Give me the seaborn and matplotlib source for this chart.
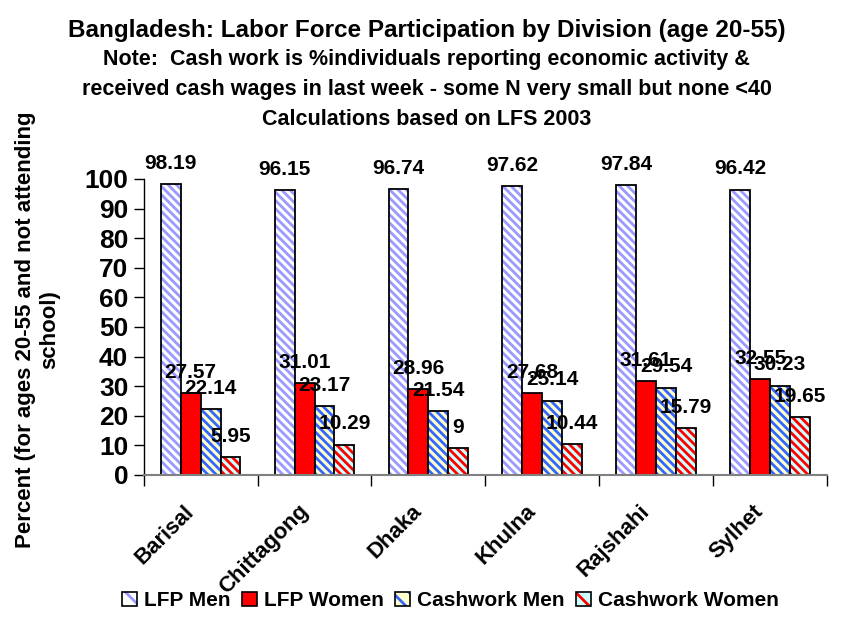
import pandas as pd
import matplotlib.pyplot as plt
import matplotlib.colors as mcolors
from matplotlib.patches import Patch
from matplotlib.transforms import ScaledTranslation
import seaborn as sns

divisions = ["Barisal", "Chittagong", "Dhaka", "Khulna", "Rajshahi", "Sylhet"]
lfp_men = [98.19, 96.15, 96.74, 97.62, 97.84, 96.42]
lfp_women = [27.57, 31.01, 28.96, 27.68, 31.61, 32.55]
cash_men = [22.14, 23.17, 21.54, 25.14, 29.54, 30.23]
cash_women = [5.95, 10.29, 9, 10.44, 15.79, 19.65]
series = ["LFP Men", "LFP Women", "Cashwork Men", "Cashwork Women"]

# face colour, hatch colour, hatch pattern per series
styles = {
    "LFP Men": ("white", "#9999FF", "\\\\\\\\"),
    "LFP Women": ("#FF0000", "#FF0000", ""),
    "Cashwork Men": ("#FFFFCC", "#3366FF", "\\\\\\\\"),
    "Cashwork Women": ("#CCFFFF", "#FF0000", "\\\\\\\\"),
}

df = pd.DataFrame({"Division": divisions, "LFP Men": lfp_men, "LFP Women": lfp_women,
                   "Cashwork Men": cash_men, "Cashwork Women": cash_women})
long = df.melt(id_vars="Division", var_name="Series", value_name="Percent")

sns.set_theme(style="white")
plt.rcParams["font.family"] = ["Liberation Sans", "DejaVu Sans"]
plt.rcParams["font.weight"] = "bold"
plt.rcParams["hatch.linewidth"] = 2.0
for k in ["text.color", "axes.labelcolor", "xtick.color", "ytick.color"]:
    plt.rcParams[k] = "black"

fig = plt.figure(figsize=(8.5, 6.25), dpi=100)
ax = fig.add_axes([0.169, 0.24, 0.804, 0.4736])

sns.barplot(data=long, x="Division", y="Percent", hue="Series", hue_order=series,
            order=divisions, width=0.7, gap=0, errorbar=None, legend=False, ax=ax)


def style_patch(p, name, lw=1.3):
    face, hcol, hatch = styles[name]
    p.set_facecolor(face)
    p.set_edgecolor("black")
    p.set_linewidth(lw)
    p.set_hatch(hatch)
    p._hatch_color = mcolors.to_rgba(hcol)


for cont, name in zip(ax.containers, series):
    for p in cont:
        style_patch(p, name)
    ax.bar_label(cont, fmt="{:g}", padding=8, fontsize=15, fontweight="bold", color="black")

ax.set_ylim(0, 100)
ax.set_xlim(-0.5, 5.5)
ax.set_yticks(range(0, 101, 10))
ax.tick_params(axis="y", labelsize=19, length=7, width=1, color="black", direction="out", left=True, pad=4)
ax.set_xticks([i - 0.5 for i in range(7)], minor=True)
ax.tick_params(axis="x", which="minor", length=8, width=1, color="black", direction="out", bottom=True)
ax.tick_params(axis="x", which="major", length=0, labelsize=16, pad=10)
shift = ScaledTranslation(-0.17, -0.12, fig.dpi_scale_trans)
for lab in ax.get_xticklabels():
    lab.set_rotation(45)
    lab.set_ha("right")
    lab.set_va("top")
    lab.set_rotation_mode("anchor")
    lab.set_fontweight("bold")
    lab.set_transform(lab.get_transform() + shift)
for lab in ax.get_yticklabels():
    lab.set_fontweight("bold")

for side in ["top", "right"]:
    ax.spines[side].set_visible(False)
ax.spines["left"].set_color("black")
ax.spines["left"].set_linewidth(1)
ax.spines["bottom"].set_color("#808080")
ax.spines["bottom"].set_linewidth(1.5)

ax.set_xlabel("")
ax.set_ylabel("Percent (for ages 20-55 and not attending\nschool)", fontsize=16,
              fontweight="bold")
ax.yaxis.set_label_coords(-0.122, 0.49)

fig.text(0.502, 0.952, "Bangladesh: Labor Force Participation by Division (age 20-55)",
         ha="center", va="center", fontsize=17.5, fontweight="bold")
fig.text(0.502, 0.904, "Note:  Cash work is %individuals reporting economic activity &",
         ha="center", va="center", fontsize=15.5, fontweight="bold")
fig.text(0.502, 0.856, "received cash wages in last week - some N very small but none <40",
         ha="center", va="center", fontsize=15.5, fontweight="bold")
fig.text(0.502, 0.808, "Calculations based on LFS 2003",
         ha="center", va="center", fontsize=15.5, fontweight="bold")

handles = []
for name in series:
    h = Patch(label=name)
    style_patch(h, name, lw=1.2)
    h.set_hatch("\\\\" if styles[name][2] else "")
    h._hatch_color = mcolors.to_rgba(styles[name][1])
    handles.append(h)
fig.legend(handles=handles, loc="center", bbox_to_anchor=(0.53, 0.039), ncol=4,
           frameon=False, handlelength=0.7, handleheight=0.7,
           handletextpad=0.35, columnspacing=0.55, prop={"weight": "bold", "size": 15})

fig.savefig("out.png", dpi=100)
